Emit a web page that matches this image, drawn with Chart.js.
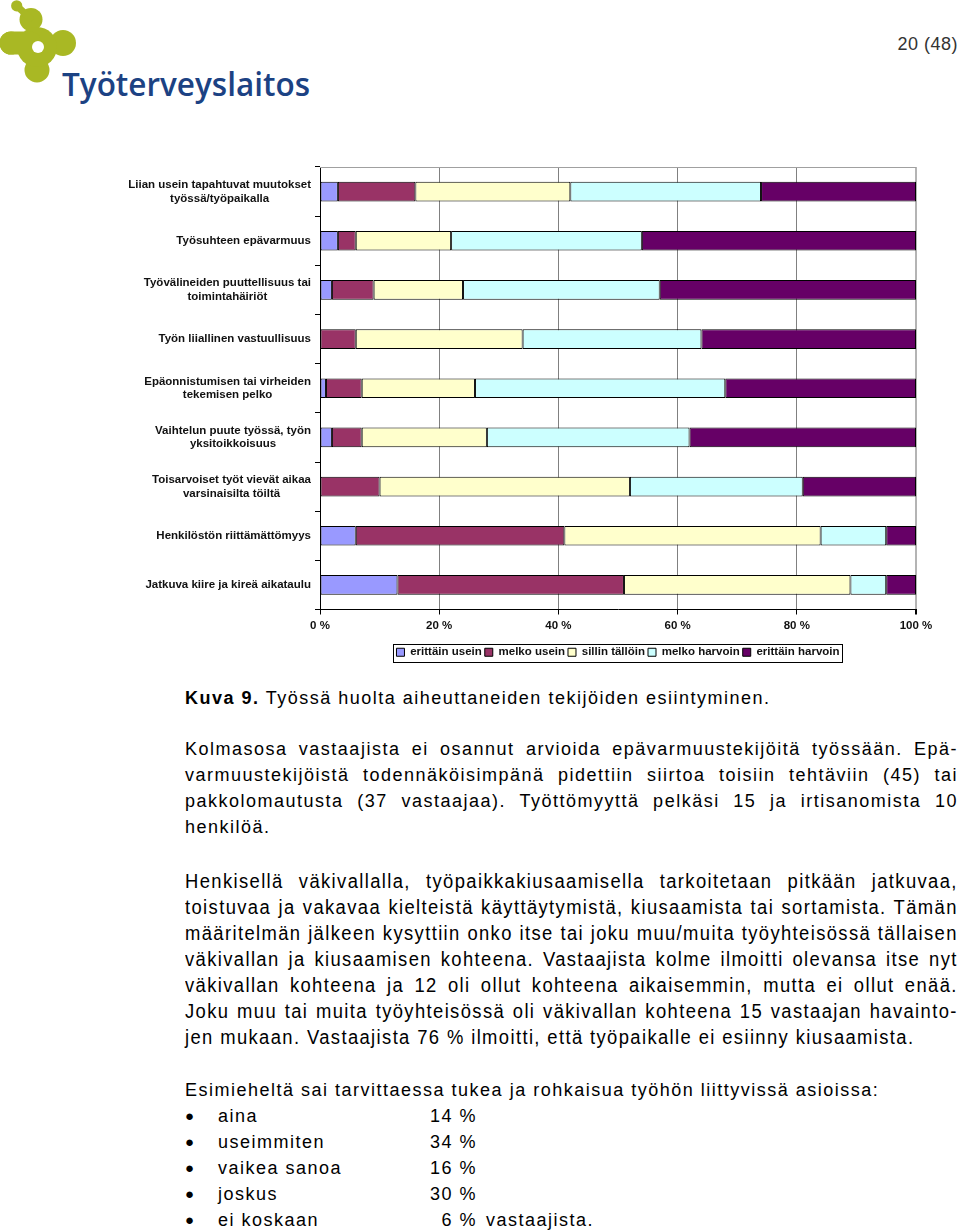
<!DOCTYPE html>
<html>
<head>
<meta charset="utf-8">
<script src="https://cdn.jsdelivr.net/npm/chart.js@4.4.0/dist/chart.umd.min.js"></script>
<style>
html, body { margin: 0; padding: 0; background: #fff; }
body { width: 960px; height: 1232px; position: relative; overflow: hidden; font-family: "Liberation Sans", Arial, sans-serif; color: #000; }
#logo { position: absolute; left: 0; top: 0; }
#pageno { position: absolute; right: 2px; top: 34px; font-size: 18px; color: #333; letter-spacing: 0.5px; }
#chartBox { position: absolute; left: 0; top: 150px; width: 960px; height: 520px; }
.ln { position: absolute; left: 185px; width: 773px; height: 26px; line-height: 26px; white-space: nowrap; font-size: 18px; letter-spacing: 1.5px; }
.j { text-align: justify; text-align-last: justify; white-space: normal; }
.nar { font-size: 20px; letter-spacing: 1.5px; width: 840px; transform: scaleX(0.92); transform-origin: 0 0; }
.li { position: absolute; left: 0; width: 700px; height: 26px; line-height: 26px; font-size: 18px; letter-spacing: 1.5px; }
.li .b { position: absolute; left: 185px; font-size: 15px; }
.li .t { position: absolute; left: 218px; }
.li .p { position: absolute; left: 380px; width: 97px; text-align: right; }
.li .v { position: absolute; left: 486px; }
</style>
</head>
<body>

<svg id="logo" width="320" height="110" viewBox="0 0 320 110">
  <g fill="#a9b824" stroke="none">
    <circle cx="16.7" cy="5.8" r="5.6"/>
    <circle cx="31" cy="19.5" r="11.5"/>
    <circle cx="11" cy="43" r="11.5"/>
    <circle cx="63" cy="43" r="13"/>
    <circle cx="37" cy="70" r="12.5"/>
    <circle cx="37" cy="47" r="20"/>
  </g>
  <line x1="16.7" y1="5.8" x2="30" y2="18" stroke="#a9b824" stroke-width="7" stroke-linecap="round"/>
  <line x1="11" y1="43" x2="30" y2="43" stroke="#a9b824" stroke-width="23" stroke-linecap="round"/>
  <circle cx="38" cy="47" r="6" fill="#fff"/>
  <text x="62" y="96" font-family="'Open Sans', 'Noto Sans', sans-serif" font-weight="600" font-size="32" fill="#1c4283" textLength="248" lengthAdjust="spacingAndGlyphs">Työterveyslaitos</text>
</svg>

<div id="pageno">20 (48)</div>

<div id="chartBox"><canvas id="chart" width="960" height="520"></canvas></div>

<div class="ln" style="top:685px"><b>Kuva 9.</b> Työssä huolta aiheuttaneiden tekijöiden esiintyminen.</div>

<div class="ln j" style="top:736px">Kolmasosa vastaajista ei osannut arvioida epävarmuustekijöitä työssään. Epä-</div>
<div class="ln j" style="top:762px">varmuustekijöistä todennäköisimpänä pidettiin siirtoa toisiin tehtäviin (45) tai</div>
<div class="ln j" style="top:788px">pakkolomautusta (37 vastaajaa). Työttömyyttä pelkäsi 15 ja irtisanomista 10</div>
<div class="ln" style="top:814px">henkilöä.</div>

<div class="ln j nar" style="top:868px">Henkisellä väkivallalla, työpaikkakiusaamisella tarkoitetaan pitkään jatkuvaa,</div>
<div class="ln j nar" style="top:894px">toistuvaa ja vakavaa kielteistä käyttäytymistä, kiusaamista tai sortamista. Tämän</div>
<div class="ln j nar" style="top:920px">määritelmän jälkeen kysyttiin onko itse tai joku muu/muita työyhteisössä tällaisen</div>
<div class="ln j nar" style="top:946px">väkivallan ja kiusaamisen kohteena. Vastaajista kolme ilmoitti olevansa itse nyt</div>
<div class="ln j nar" style="top:972px">väkivallan kohteena ja 12 oli ollut kohteena aikaisemmin, mutta ei ollut enää.</div>
<div class="ln j nar" style="top:998px">Joku muu tai muita työyhteisössä oli väkivallan kohteena 15 vastaajan havainto-</div>
<div class="ln nar" style="top:1024px">jen mukaan. Vastaajista 76 % ilmoitti, että työpaikalle ei esiinny kiusaamista.</div>

<div class="ln" style="top:1077px">Esimieheltä sai tarvittaessa tukea ja rohkaisua työhön liittyvissä asioissa:</div>
<div class="li" style="top:1103px"><span class="b">●</span><span class="t">aina</span><span class="p">14 %</span></div>
<div class="li" style="top:1129px"><span class="b">●</span><span class="t">useimmiten</span><span class="p">34 %</span></div>
<div class="li" style="top:1155px"><span class="b">●</span><span class="t">vaikea sanoa</span><span class="p">16 %</span></div>
<div class="li" style="top:1181px"><span class="b">●</span><span class="t">joskus</span><span class="p">30 %</span></div>
<div class="li" style="top:1207px"><span class="b">●</span><span class="t">ei koskaan</span><span class="p">6 %</span><span class="v">vastaajista.</span></div>

<script>
// Categories (top to bottom) and series shares in percent
const categories = [
    ['Liian usein tapahtuvat muutokset', 'työssä/työpaikalla'],
    'Työsuhteen epävarmuus',
    ['Työvälineiden puuttellisuus tai', 'toimintahäiriöt'],
    'Työn liiallinen vastuullisuus',
    ['Epäonnistumisen tai virheiden', 'tekemisen pelko'],
    ['Vaihtelun puute työssä, työn', 'yksitoikkoisuus'],
    ['Toisarvoiset työt vievät aikaa', 'varsinaisilta töiltä'],
    'Henkilöstön riittämättömyys',
    'Jatkuva kiire ja kireä aikataulu'
];
const seriesNames = ['erittäin usein', 'melko usein', 'sillin tällöin', 'melko harvoin', 'erittäin harvoin'];
const erittainUsein   = [3, 3, 2, 0, 1, 2, 0, 6, 13];
const melkoUsein      = [13, 3, 7, 6, 6, 5, 10, 35, 38];
const sillinTalloin   = [26, 16, 15, 28, 19, 21, 42, 43, 38];
const melkoHarvoin    = [32, 32, 33, 30, 42, 34, 29, 11, 6];
const erittainHarvoin = [26, 46, 43, 36, 32, 38, 19, 5, 5];
const xTicks = [0, 20, 40, 60, 80, 100];

const seriesColors = ['#9999ff', '#993366', '#ffffcc', '#ccffff', '#660066'];
const seriesValues = [erittainUsein, melkoUsein, sillinTalloin, melkoHarvoin, erittainHarvoin];

const FONT = '"Liberation Sans", Arial, sans-serif';

// Draws the centred multi-line category labels, the grey top edge and the legend frame
const chartDecor = {
    id: 'chartDecor',
    afterDraw(chart) {
        const { ctx, chartArea: a } = chart;
        const yScale = chart.scales.y;
        ctx.save();

        ctx.strokeStyle = '#a0a0a0';
        ctx.lineWidth = 1;
        ctx.beginPath();
        ctx.moveTo(a.left, a.top + 0.5);
        ctx.lineTo(a.right, a.top + 0.5);
        ctx.stroke();

        ctx.font = 'bold 11.5px ' + FONT;
        ctx.fillStyle = '#111';
        ctx.textAlign = 'center';
        ctx.textBaseline = 'middle';
        chart.data.labels.forEach((lab, i) => {
            const lines = Array.isArray(lab) ? lab : [lab];
            const w = Math.max(...lines.map(l => ctx.measureText(l).width));
            const cx = a.left - 9 - w / 2;
            const cy = yScale.getPixelForValue(i);
            lines.forEach((l, k) => ctx.fillText(l, cx, cy + (k - (lines.length - 1) / 2) * 13.5));
        });

        const hb = chart.legend.legendHitBoxes;
        if (hb && hb.length) {
            const left = Math.min(...hb.map(h => h.left)) - 3;
            const right = Math.max(...hb.map(h => h.left + h.width)) + 3;
            const top = Math.min(...hb.map(h => h.top)) - 3;
            const bottom = Math.max(...hb.map(h => h.top + h.height)) + 3;
            ctx.strokeStyle = '#000';
            ctx.lineWidth = 1;
            ctx.strokeRect(Math.round(left) + 0.5, Math.round(top) + 0.5, Math.round(right - left), Math.round(bottom - top));
        }
        ctx.restore();
    }
};

new Chart(document.getElementById('chart'), {
    type: 'bar',
    data: {
        labels: categories,
        datasets: seriesNames.map((name, i) => ({
            label: name,
            data: seriesValues[i],
            backgroundColor: seriesColors[i],
            borderColor: '#000',
            borderWidth: 1,
            borderSkipped: false,
            barPercentage: 0.4,
            categoryPercentage: 1.0
        }))
    },
    options: {
        indexAxis: 'y',
        responsive: false,
        animation: false,
        devicePixelRatio: 1,
        layout: { padding: { left: 320, right: 44, top: 17, bottom: 2 } },
        plugins: {
            legend: {
                position: 'bottom',
                labels: {
                    boxWidth: 8,
                    boxHeight: 8,
                    padding: 3,
                    color: '#111',
                    font: { family: FONT, size: 11.5, weight: 'bold' }
                }
            },
            tooltip: { enabled: false }
        },
        scales: {
            x: {
                stacked: true,
                min: 0,
                max: 100,
                afterBuildTicks: s => { s.ticks = xTicks.map(v => ({ value: v })); },
                afterFit: s => { s.height = 34; },
                border: { display: true, color: '#000', width: 1 },
                grid: {
                    color: c => (c.tick && c.tick.value === 100) ? '#b4b4b4' : '#808080',
                    lineWidth: c => (c.tick && c.tick.value === 100) ? 2 : 1,
                    tickColor: '#000',
                    tickLength: 5,
                    drawTicks: true
                },
                ticks: {
                    padding: 4,
                    color: '#111',
                    maxRotation: 0,
                    font: { family: FONT, size: 11.5, weight: 'bold' },
                    callback: v => v + ' %'
                }
            },
            y: {
                stacked: true,
                afterFit: s => { s.width = 0; },
                border: { display: true, color: '#000', width: 1 },
                grid: {
                    drawOnChartArea: false,
                    color: '#000',
                    tickLength: 5,
                    offset: true
                },
                ticks: { display: false }
            }
        }
    },
    plugins: [chartDecor]
});
</script>
</body>
</html>
